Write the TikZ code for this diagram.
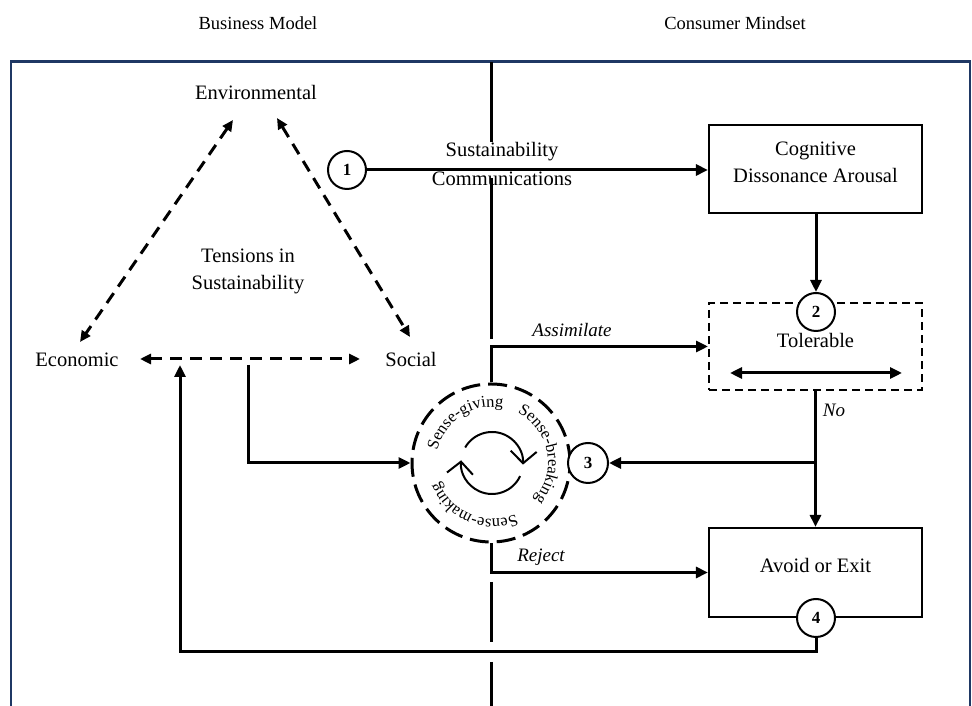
\documentclass[tikz,border=0pt]{standalone}
\usepackage{fontspec}
\setmainfont{Liberation Serif}
\usetikzlibrary{arrows.meta,decorations.text}
\definecolor{navyframe}{RGB}{31,56,100}
\begin{document}
\begin{tikzpicture}[x=1pt,y=1pt,
 txt/.style={font=\fontsize{20.5}{27}\selectfont, inner sep=0pt, text height=14pt, text depth=4pt},
 txtm/.style={font=\fontsize{20.5}{27}\selectfont, inner sep=0pt, align=center},
 ttl/.style={font=\fontsize{18.5}{22}\selectfont, inner sep=0pt},
 lbl/.style={font=\fontsize{19}{22}\selectfont\itshape, inner sep=0pt},
 num/.style={circle, draw, line width=2pt, fill=white, minimum size=38pt, inner sep=0pt, font=\fontsize{17}{17}\selectfont\bfseries},
 box/.style={draw, line width=2.2pt, minimum width=213pt, minimum height=88pt, inner sep=0pt},
 arr/.style={line width=3pt, -{Triangle[length=12pt,width=11pt]}},
 darr/.style={line width=3pt, dash pattern=on 12pt off 8pt, {Triangle[length=11pt,width=10pt]}-{Triangle[length=11pt,width=10pt]}},
 ln/.style={line width=3pt},
 cyclearr/.style={line width=2pt, -{Straight Barb[length=12pt,width=26pt]}},
]
\useasboundingbox (0,0) rectangle (972,706);

% frame
\draw[navyframe, line width=2pt] (11,-5) -- (11,644) -- (970,644) -- (970,-5);
\draw[navyframe, line width=3pt] (10,644) -- (971,644);

% divider
\draw[ln] (491,644) -- (491,564);
\draw[ln] (491,528) -- (491,367);
\draw[ln] (491,124) -- (491,64);
\draw[ln] (491,44) -- (491,-2);

% titles
\node[ttl] (bm) at (258,683) {Business Model};
\node[ttl] (cm) at (735,683) {Consumer Mindset};

% tensions triangle
\node[txt] (env) at (256,611) {Environmental};
\node[txtm] (tens) at (248,435) {Tensions in\\Sustainability};
\node[txt] (eco) at (77,344) {Economic};
\node[txt] (soc) at (411,344) {Social};
\coordinate (eL1) at (233,586); \coordinate (eL2) at (80,364);
\coordinate (eR1) at (277,588); \coordinate (eR2) at (410,369);
\draw[darr] (eL1) -- (eL2);
\draw[darr] (eR1) -- (eR2);
\coordinate (esL) at (140,347); \coordinate (esR) at (360,347);
\draw[darr] (esL) -- (esR);

% boxes
\node[box] (cog) at (815.5,537) {};
\node[txtm] (cogt) at (815.5,544) {Cognitive\\Dissonance Arousal};
\node[box, line width=2pt, dash pattern=on 8pt off 5pt, minimum height=87pt] (tol) at (815.5,359.5) {};
\node[txt] (tolt) at (815.5,363) {Tolerable};
\coordinate (tA) at (730,333); \coordinate (tB) at (902,333);
\draw[line width=3pt, {Triangle[length=12pt,width=11pt]}-{Triangle[length=12pt,width=11pt]}] (tA) -- (tB);
\node[box, minimum height=89pt] (avoid) at (815.5,133.5) {};
\node[txt] (avt) at (815.5,138) {Avoid or Exit};

% sense circle
\node[circle, draw, line width=3pt, dash pattern=on 19pt off 8pt, minimum size=158pt, inner sep=0pt] (sc) at (491,243) {};
\coordinate (cyc) at (492,243);
\draw[cyclearr] ([shift={(150:31)}]cyc) arc[start angle=150, end angle=-3, radius=31];
\draw[cyclearr] ([shift={(-25:31)}]cyc) arc[start angle=-25, end angle=-185, radius=31];
\path[decorate, decoration={text along path, text={|\fontsize{16.5}{16.5}\selectfont|Sense-giving}, text align=center}]
  ([shift={(180:56)}]cyc) arc[start angle=180, end angle=66, radius=56];
\path[decorate, decoration={text along path, text={|\fontsize{16.5}{16.5}\selectfont|Sense-breaking}, text align=center}]
  ([shift={(70:56)}]cyc) arc[start angle=70, end angle=-48, radius=56];
\path[decorate, decoration={text along path, text={|\fontsize{16.5}{16.5}\selectfont|Sense-making}, text align=center}]
  ([shift={(-55:56)}]cyc) arc[start angle=-55, end angle=-171, radius=56];

% numbered circles
\node[num] (c1) at (347,536) {1};
\node[num] (c2) at (816,394) {2};
\node[num, minimum size=40pt] (c3) at (588,243) {3};
\node[num] (c4) at (816,88) {4};

% connectors
\draw[arr] (c1) -- (c1 -| cog.west);
\node[txt] (sus) at (502,554) {Sustainability};
\node[txt] (com) at (502,525) {Communications};
\draw[arr] (c2 |- cog.south) -- (c2.north);
\draw[arr] (sc.north) |- (tol.west);
\node[lbl] (assim) at (572,376) {Assimilate};
\draw[arr] (sc.south) |- (avoid.west);
\node[lbl] (rej) at (541,149) {Reject};
\draw[arr] (tol.south) -- (avoid.north);
\node[lbl] (no) at (834,296) {No};
\coordinate (br) at (tol.south |- c3);
\draw[arr] (br) -- (c3.east);
\coordinate (fbc) at (816,54);
\coordinate (fbend) at (180,341);
\draw[arr] (c4.south) -- (c4.south |- fbc) -| (fbend);
\coordinate (bs) at (248,341);
\draw[arr] (bs) |- (sc.west);
\end{tikzpicture}
\end{document}
